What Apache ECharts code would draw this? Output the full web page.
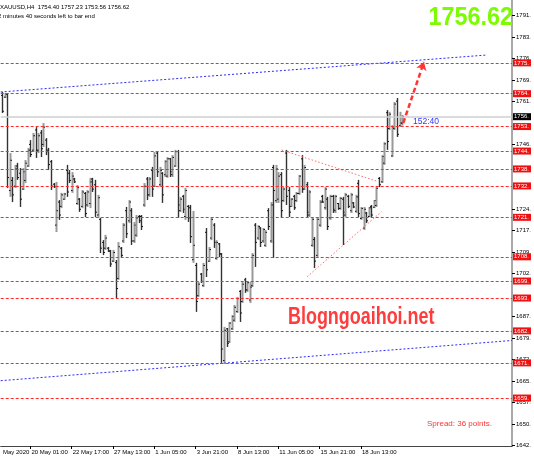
<!DOCTYPE html>
<html>
<head>
<meta charset="utf-8">
<title>XAUUSD H4</title>
<script src="https://cdn.jsdelivr.net/npm/echarts@6/dist/echarts.min.js"></script>
<style>
  html, body { margin: 0; padding: 0; background: #fff; }
  #main { width: 534px; height: 462px; }
</style>
</head>
<body>
<div id="main"></div>
<script>
// H4 bars, oldest first: [open, close, low, high]
const priceBars = [
  [1764, 1758.5, 1757.9, 1765.2], [1763.4, 1764.5, 1763.1, 1764.8], [1764.5, 1735.5, 1731.9, 1764.8],
  [1731, 1741.5, 1728.8, 1744], [1734.5, 1729.5, 1727, 1735.7], [1732.5, 1738.5, 1731.9, 1739.9],
  [1739.5, 1735.5, 1734.7, 1740.6], [1737, 1728, 1725.3, 1738.8], [1731.5, 1737.5, 1731.2, 1738.8],
  [1734.5, 1740.5, 1733.6, 1741.6], [1739.5, 1745, 1739.2, 1745.8], [1747, 1743.5, 1742.6, 1748.5],
  [1745, 1750, 1744.4, 1751], [1752, 1745, 1742.3, 1753], [1745, 1750, 1744, 1751],
  [1751, 1745.5, 1742.6, 1752], [1747, 1753, 1746.1, 1754.4], [1748.5, 1744.5, 1743.3, 1749.2],
  [1745, 1740, 1738.1, 1745.8], [1741, 1732.5, 1731.2, 1741.6], [1733.2, 1732.3, 1731.9, 1733.6],
  [1719, 1724, 1716.6, 1734], [1727, 1722.5, 1720.8, 1727.7], [1725.5, 1729.5, 1724.9, 1730.2],
  [1728, 1729.8, 1727.7, 1730.2], [1738, 1730.5, 1728.8, 1739.9], [1737, 1734.5, 1733.6, 1738.1],
  [1731, 1736, 1730.2, 1737.4], [1735, 1734, 1733.6, 1735.4], [1726.5, 1732, 1726, 1732.9],
  [1728, 1724.5, 1723.6, 1728.4], [1725.5, 1730.5, 1724.9, 1731.2], [1730, 1723, 1721.8, 1730.5],
  [1726, 1730.5, 1725.3, 1731.2], [1726.5, 1734, 1724.9, 1735.4], [1735, 1731.5, 1730.5, 1735.4],
  [1733, 1723.5, 1721.8, 1734.7], [1722.5, 1728.5, 1721.5, 1729.5], [1721, 1711, 1709.3, 1721.5],
  [1713, 1709.5, 1708.6, 1713.8], [1711, 1714.5, 1710.4, 1715.6], [1711, 1710, 1709.7, 1711.4],
  [1710, 1705.5, 1704.5, 1710.4], [1706.5, 1709.5, 1706.2, 1710.4], [1706, 1697, 1693.7, 1706.9],
  [1700.5, 1711.5, 1700, 1713.1], [1711, 1708.5, 1707.9, 1711.4], [1713.5, 1719, 1712.8, 1719.7],
  [1724, 1716, 1714.5, 1725.3], [1720.5, 1727, 1719.7, 1727.7], [1724, 1713.5, 1712.1, 1724.9],
  [1713.5, 1719, 1712.8, 1720.1], [1715.5, 1721.5, 1714.9, 1722.5], [1722, 1720.5, 1719.7, 1722.5],
  [1722, 1718.5, 1717.3, 1722.5], [1726, 1732.5, 1725.3, 1733.6], [1735, 1729.5, 1727.7, 1735.7],
  [1729.5, 1735, 1728.8, 1735.7], [1738, 1731.5, 1728.8, 1739.2], [1732.5, 1743, 1732.2, 1744.4],
  [1744, 1737.5, 1735.7, 1744.4], [1733, 1738, 1732.2, 1739.2], [1737, 1729.5, 1726.7, 1737.4],
  [1736.5, 1741, 1735.7, 1741.6], [1736, 1742, 1735.4, 1742.6], [1742, 1737.5, 1735.7, 1742.3],
  [1736.5, 1742.5, 1735.7, 1743.3], [1739.5, 1744.5, 1739.2, 1745.1], [1744.5, 1726, 1721.5, 1745.1],
  [1724, 1728, 1723.6, 1728.8], [1729, 1724.5, 1723.2, 1729.5], [1722, 1731, 1720.8, 1731.9],
  [1725.5, 1721.5, 1720.1, 1726], [1725, 1715, 1712.8, 1726], [1707, 1712, 1705.9, 1723.9],
  [1705, 1692.5, 1688.9, 1705.9], [1694.5, 1698.5, 1694.1, 1699.3], [1702, 1699.5, 1698.9, 1702.4],
  [1698, 1705, 1697.5, 1705.9], [1716.5, 1703.5, 1701, 1718], [1706.5, 1710.5, 1706.2, 1711.4],
  [1714.5, 1721, 1713.8, 1721.5], [1719, 1713, 1711.1, 1719.7], [1707.5, 1713, 1706.9, 1713.8],
  [1712.5, 1709, 1707.9, 1712.8], [1709, 1676, 1671.2, 1709.3], [1672, 1682.5, 1671.2, 1683.7],
  [1683, 1678, 1676.7, 1683.3], [1678.5, 1685, 1678.1, 1685.4], [1683, 1687.3, 1682.6, 1687.8],
  [1686, 1690.5, 1685.4, 1691.3], [1689, 1693.5, 1688.5, 1694.1], [1696, 1688.5, 1685.4, 1696.5],
  [1692.5, 1698.5, 1692, 1699.3], [1700, 1696.5, 1695.5, 1700.7], [1696.5, 1699, 1695.8, 1699.3],
  [1693, 1697.5, 1692, 1699.3], [1698, 1708.5, 1697.5, 1709.3], [1719, 1713, 1704.5, 1719.7],
  [1714.5, 1718.5, 1713.8, 1719], [1718, 1713, 1711.4, 1718.3], [1713.5, 1717.5, 1712.8, 1718],
  [1712, 1716.5, 1711.4, 1717.3], [1724, 1718.5, 1717.3, 1724.9], [1713.5, 1726, 1712.8, 1727],
  [1739, 1731, 1707.6, 1739.9], [1727.5, 1738.5, 1726.7, 1739.9], [1728, 1736, 1726.7, 1737.4],
  [1736.5, 1724, 1721.8, 1737.4], [1727.5, 1731.5, 1727, 1732.2], [1744, 1729, 1726, 1745.1],
  [1731, 1723.5, 1721.8, 1732.2], [1725.5, 1728, 1725.3, 1728.4], [1729, 1725, 1724.3, 1729.5],
  [1727.5, 1730, 1727, 1730.5], [1730, 1736, 1729.5, 1736.4], [1742, 1731.5, 1730.2, 1743.3],
  [1731.5, 1739, 1731.2, 1739.9], [1733, 1723.5, 1721.8, 1734], [1722.5, 1730.5, 1721.8, 1731.2],
  [1712, 1721, 1711.4, 1721.8], [1714, 1706.5, 1704.1, 1714.9], [1708.5, 1721, 1707.9, 1721.8],
  [1719, 1727, 1718.3, 1727.7], [1729, 1727, 1726.7, 1729.5], [1725, 1731.5, 1724.3, 1732.2],
  [1728, 1718.5, 1717.3, 1728.8], [1721.5, 1729, 1720.8, 1729.5], [1729, 1724.5, 1723.2, 1729.5],
  [1724, 1729, 1723.2, 1729.5], [1726.5, 1724.8, 1724.3, 1726.7], [1724.8, 1728.3, 1724.3, 1728.8],
  [1728, 1723.5, 1712.1, 1728.8], [1722.5, 1729.5, 1721.8, 1730.2], [1729, 1725.5, 1724.9, 1729.5],
  [1724, 1729.5, 1723.2, 1730.2], [1726.7, 1725.3, 1724.9, 1727], [1723.8, 1728.8, 1723.2, 1729.5],
  [1733.5, 1723, 1721.8, 1734.7], [1721.3, 1724.8, 1720.8, 1725.3], [1718, 1724.5, 1717.3, 1725.3],
  [1723.2, 1720.5, 1719.7, 1723.6], [1722, 1725, 1721.8, 1725.3], [1725.5, 1722.5, 1721.8, 1726],
  [1725.2, 1727.5, 1724.9, 1727.7], [1725.8, 1731.8, 1725.3, 1732.2], [1735.2, 1733, 1732.2, 1735.7],
  [1734, 1742.8, 1733.6, 1743.3], [1740.5, 1747.2, 1739.9, 1747.8], [1758, 1748, 1745.1, 1758.9],
  [1752.5, 1757.5, 1752, 1758.3], [1743, 1753, 1742.6, 1753.7], [1752.5, 1761, 1752, 1761.7],
  [1762, 1750.5, 1749.6, 1763.1], [1753.5, 1754.4, 1753.1, 1758.3], [1754.40, 1756.62, 1753.56, 1757.23]
];

// time axis (bar index -> label)
const timeLabelIdx = [0, 11, 27, 43, 59, 75, 91, 107, 123, 139];
const timeLabels = ['May 2020', '20 May 01:00', '22 May 17:00', '27 May 13:00', '1 Jun 05:00',
  '3 Jun 21:00', '8 Jun 13:00', '11 Jun 05:00', '15 Jun 21:00', '18 Jun 13:00'];
const timeTickIdx = [11, 27, 43, 59, 75, 91, 107, 123, 139];

// price scale
const priceTicks = [1642.50, 1649.96, 1657.42, 1664.88, 1672.34, 1679.80, 1687.26, 1702.18, 1709.64,
  1717.10, 1724.56, 1746.94, 1761.86, 1769.32, 1776.78, 1784.24, 1791.70];
const priceTickLabels = ['1642.', '1650.', '1657.', '1665.', '1672.', '1679.', '1687.', '1702.', '1709.',
  '1717.', '1724.', '1746.', '1761.', '1769.', '1776.', '1783.', '1791.'];

// horizontal support / resistance levels
const levelValues = [1775.3, 1764.6, 1753.2, 1744.7, 1738.5, 1732.6, 1721.7, 1708.0, 1699.6, 1693.7, 1682.3, 1671.2, 1659.0];
const levelLabels = ['1775.', '1764.', '1753.', '1744.', '1738.', '1732.', '1721.', '1708.', '1699.', '1693.', '1682.', '1671.', '1659.'];

const bidPrice = 1756.62;

// drawn objects: [barIndex, price]
const upperChannel = [[-0.5, 1765.19], [187.9, 1778.03]];
const lowerChannel = [[-0.5, 1665.02], [197.5, 1678.97]];
const triangleTop = [[108.3, 1745.07], [145.7, 1734.07]];
const triangleBottom = [[118.2, 1701.1], [146.95, 1723.66]];
const targetArrow = [[155.4, 1754.43], [163.4, 1775.6]];

const FONT = '"Liberation Sans", Arial, sans-serif';

const chart = echarts.init(document.getElementById('main'));

function renderBar(params, api) {
  const i = api.value(0);
  const o = api.value(1);
  const c = api.value(2);
  const pO = api.coord([i, o]);
  const pC = api.coord([i, c]);
  const pL = api.coord([i, api.value(3)]);
  const pH = api.coord([i, api.value(4)]);
  const down = c < o;
  const color = down ? '#333' : '#999';
  const x = Math.round(pH[0]) + 0.5;
  return {
    type: 'group',
    children: [
      { type: 'line', shape: { x1: x, y1: pH[1], x2: x, y2: pL[1] },
        style: { stroke: color, lineWidth: down ? 1.4 : 2 } },
      { type: 'line', shape: { x1: x - 1.5, y1: pO[1], x2: x, y2: pO[1] },
        style: { stroke: '#111', lineWidth: 1 } },
      { type: 'line', shape: { x1: x, y1: pC[1], x2: x + 1.5, y2: pC[1] },
        style: { stroke: '#111', lineWidth: 1 } }
    ]
  };
}

const levelLines = levelValues.map((v, k) => ({
  yAxis: v,
  label: { formatter: levelLabels[k] }
}));

chart.setOption({
  animation: false,
  backgroundColor: '#fff',
  grid: { left: 0, right: 17, top: 0, bottom: 16 },
  xAxis: {
    type: 'value',
    min: -0.5,
    max: 197.5,
    axisLine: { show: true, onZero: false, lineStyle: { color: '#444', width: 1 } },
    axisTick: { show: true, customValues: timeTickIdx, length: 3, lineStyle: { color: '#000' } },
    axisLabel: {
      customValues: timeLabelIdx,
      formatter: (v) => timeLabels[timeLabelIdx.indexOf(v)],
      align: 'left',
      margin: 3,
      fontSize: 6,
      fontFamily: FONT,
      color: '#000',
      padding: [0, 0, 0, 1]
    },
    splitLine: { show: false }
  },
  yAxis: {
    type: 'value',
    position: 'right',
    min: 1642.36,
    max: 1797.11,
    axisLine: { show: true, onZero: false, lineStyle: { color: '#a8a8a8', width: 2 } },
    axisTick: { show: true, customValues: priceTicks, length: 3, lineStyle: { color: '#000' } },
    axisLabel: {
      customValues: priceTicks,
      formatter: (v) => priceTickLabels[priceTicks.indexOf(v)],
      margin: 4,
      fontSize: 6,
      fontFamily: FONT,
      color: '#000'
    },
    splitLine: { show: false }
  },
  series: [
    {
      name: 'levels',
      type: 'line',
      data: [],
      z: 1,
      markLine: {
        silent: true,
        symbol: 'none',
        lineStyle: { type: [3, 2], color: '#ff2b2b', width: 1 },
        label: {
          position: 'end',
          distance: 1,
          backgroundColor: '#f01010',
          color: '#fff',
          fontSize: 6,
          fontFamily: FONT,
          padding: [1, 2, 0, 1]
        },
        data: levelLines
      }
    },
    {
      name: 'bid',
      type: 'line',
      data: [],
      z: 1,
      markLine: {
        silent: true,
        symbol: 'none',
        lineStyle: { type: 'solid', color: '#cfcfcf', width: 1.5 },
        label: {
          position: 'end',
          distance: 1,
          backgroundColor: '#000',
          color: '#fff',
          fontSize: 6,
          fontFamily: FONT,
          padding: [1, 2, 0, 1],
          formatter: '1756.'
        },
        data: [{ yAxis: bidPrice }]
      }
    },
    {
      name: 'upper channel',
      type: 'line',
      data: upperChannel,
      symbol: 'none',
      z: 3,
      lineStyle: { color: '#2b2bff', width: 1, type: [2, 2] }
    },
    {
      name: 'lower channel',
      type: 'line',
      data: lowerChannel,
      symbol: 'none',
      z: 3,
      lineStyle: { color: '#2b2bff', width: 1, type: [2, 2] }
    },
    {
      name: 'triangle top',
      type: 'line',
      data: triangleTop,
      symbol: 'none',
      z: 3,
      lineStyle: { color: '#ff6b6b', width: 1, type: [1.5, 2] }
    },
    {
      name: 'triangle bottom',
      type: 'line',
      data: triangleBottom,
      symbol: 'none',
      z: 3,
      lineStyle: { color: '#ff6b6b', width: 1, type: [1.5, 2] }
    },
    {
      name: 'bars',
      type: 'custom',
      renderItem: renderBar,
      z: 2,
      encode: { x: 0, y: [1, 2, 3, 4] },
      data: priceBars.map((b, i) => [i, b[0], b[1], b[2], b[3]])
    },
    {
      name: 'target',
      type: 'line',
      data: [],
      z: 4,
      markLine: {
        silent: true,
        symbol: ['none', 'arrow'],
        symbolSize: 8,
        lineStyle: { type: [5, 3], color: '#ff3535', width: 2.5 },
        label: { show: false },
        data: [[{ coord: targetArrow[0] }, { coord: targetArrow[1] }]]
      }
    }
  ],
  graphic: [
    { type: 'text', x: 0, y: 7, z: 10,
      style: { text: 'XAUUSD,H4  1754.40 1757.23 1753.56 1756.62', fill: '#000',
        font: '6px ' + FONT, verticalAlign: 'middle' } },
    { type: 'text', x: -2, y: 16, z: 10,
      style: { text: '2 minutes 40 seconds left to bar end', fill: '#000',
        font: '6px ' + FONT, verticalAlign: 'middle' } },
    { type: 'text', x: 513, y: 18, z: 10, scaleX: 0.9,
      style: { text: '1756.62', fill: '#7cfc00', font: 'bold 26px ' + FONT,
        align: 'right', verticalAlign: 'middle' } },
    { type: 'text', x: 288, y: 318, z: 10, scaleX: 0.78,
      style: { text: 'Blogngoaihoi.net', fill: '#ff3c3c', font: 'bold 23px ' + FONT,
        verticalAlign: 'middle', shadowColor: 'rgba(0,0,0,0.45)', shadowBlur: 3,
        shadowOffsetX: 2, shadowOffsetY: 2 } },
    { type: 'text', x: 427, y: 424, z: 10,
      style: { text: 'Spread: 36 points.', fill: '#ff3333', font: '8px ' + FONT,
        verticalAlign: 'middle' } },
    { type: 'text', x: 413, y: 122, z: 10,
      style: { text: '152:40', fill: '#3333ff', font: '8.5px ' + FONT,
        verticalAlign: 'middle' } }
  ]
});
</script>
</body>
</html>
